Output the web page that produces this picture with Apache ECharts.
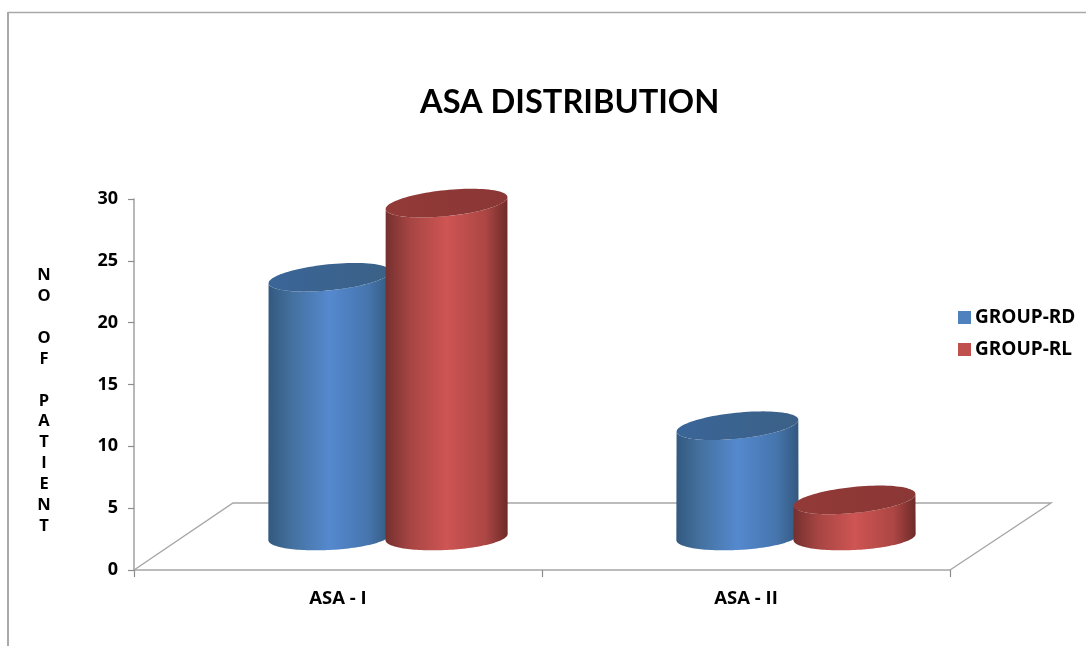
<!DOCTYPE html>
<html>
<head>
<meta charset="utf-8">
<style>html,body{margin:0;padding:0;background:#fff}#c{width:1086px;height:646px}</style>
<script src="https://cdn.jsdelivr.net/npm/echarts@6/dist/echarts.min.js"></script>
</head>
<body>
<div id="c"></div>
<script>
const categories = ['ASA - I', 'ASA - II'];
const groupRD = [21, 9];
const groupRL = [27, 3];
const yTicks = {min: 0, max: 30, interval: 5};
const titleFont = 'Lato, "Open Sans", sans-serif';
const font = '"Open Sans", Lato, sans-serif';
const yName = 'N\nO\n\nO\nF\n\nP\nA\nT\nI\nE\nN\nT';

const chart = echarts.init(document.getElementById('c'), null, {renderer: 'canvas'});

const DX = 50, DY = -33, FLOOR_DX = 100, FLOOR_DY = -67;

function ellipsePts(cx, cy, rx, ry, deg, from, to, n) {
  const a = deg * Math.PI / 180, pts = [];
  for (let i = 0; i <= n; i++) {
    const t = from + (to - from) * i / n;
    const x = rx * Math.cos(t), y = ry * Math.sin(t);
    pts.push([cx + x * Math.cos(a) + y * Math.sin(a), cy - x * Math.sin(a) + y * Math.cos(a)]);
  }
  return pts;
}
function sideGradient(edgeL, midL, mid, midR, edgeR) {
  return new echarts.graphic.LinearGradient(0, 0, 1, 0, [
    {offset: 0, color: edgeL}, {offset: 0.2, color: midL}, {offset: 0.5, color: mid},
    {offset: 0.82, color: midR}, {offset: 1, color: edgeR}
  ]);
}
function cylinder(sign, side, top) {
  return function (params, api) {
    const band = api.size([1, 0])[0];
    const rx = band * 0.15, ry = 13;
    const v = api.coord([api.value(0), api.value(1)]);
    const b = api.coord([api.value(0), 0]);
    const cx = v[0] + DX + sign * band * 0.1435;
    const topY = v[1] + DY, botY = b[1] + DY;
    const bottomArc = ellipsePts(cx, botY, rx, ry, 3, Math.PI, 0, 72).reverse();
    const topArc = ellipsePts(cx, topY, rx, ry, 5.8, Math.PI, 0, 72);
    const topPts = ellipsePts(cx, topY, rx, ry, 5.8, 0, Math.PI * 2, 96);
    return {
      type: 'group',
      children: [
        {type: 'polygon', shape: {points: topArc.concat(bottomArc)}, style: {fill: side}},
        {type: 'polygon', shape: {points: topPts}, style: {fill: top}}
      ]
    };
  };
}
function floorItem(params) {
  const cs = params.coordSys;
  const x0 = cs.x, x1 = cs.x + cs.width, y = cs.y + cs.height;
  return {
    type: 'polyline',
    shape: {points: [[x0, y], [x0 + FLOOR_DX - 1, y + FLOOR_DY], [x1 + FLOOR_DX + 1, y + FLOOR_DY], [x1, y]]},
    style: {stroke: '#a6a6a6', lineWidth: 1.4, fill: null}
  };
}

chart.setOption({
  animation: false,
  backgroundColor: '#fff',
  title: {
    text: 'ASA DISTRIBUTION', left: 415, top: 81,
    textStyle: {fontFamily: titleFont, fontWeight: 'bold', fontSize: 32.6, color: '#000'}
  },
  legend: {
    orient: 'vertical', left: 953, top: 303, itemWidth: 13, itemHeight: 13, itemGap: 13,
    icon: 'rect', data: ['GROUP-RD', 'GROUP-RL'],
    textStyle: {fontFamily: font, fontWeight: 'bold', fontSize: 19, color: '#000', padding: [0, 0, 0, -1]}
  },
  grid: {left: 134, right: 136, top: 199, bottom: 76},
  xAxis: {
    type: 'category', data: categories, boundaryGap: true,
    axisLine: {lineStyle: {color: '#a6a6a6', width: 1.6}},
    axisTick: {show: true, alignWithLabel: false, length: 7, lineStyle: {color: '#8c8c8c', width: 1.2}},
    axisLabel: {fontFamily: font, fontWeight: 'bold', fontSize: 18.5, color: '#000', margin: 19}
  },
  yAxis: {
    type: 'value', min: yTicks.min, max: yTicks.max, interval: yTicks.interval,
    splitLine: {show: false},
    axisLine: {show: true, lineStyle: {color: '#a6a6a6', width: 1.6}},
    axisTick: {show: true, length: 6, lineStyle: {color: '#8c8c8c', width: 1.2}},
    axisLabel: {fontFamily: font, fontWeight: 'bold', fontSize: 18, color: '#000', margin: 16}
  },
  graphic: [
    {type: 'line', shape: {x1: 8, y1: 12.5, x2: 1086, y2: 12.5}, style: {stroke: '#a9a9a9', lineWidth: 1.5}, silent: true},
    {type: 'line', shape: {x1: 8, y1: 12, x2: 8, y2: 646}, style: {stroke: '#a9a9a9', lineWidth: 2}, silent: true},
    {type: 'text', x: 44, y: 265, silent: true, style: {
      text: yName, align: 'center', verticalAlign: 'top', lineHeight: 20.9,
      fontFamily: font, fontWeight: 'bold', fontSize: 16.5, fill: '#000'
    }}
  ],
  series: [
    {type: 'custom', name: 'floor', silent: true, z: 1, data: [[0, 0]], renderItem: floorItem},
    {
      type: 'custom', name: 'GROUP-RD', z: 2, itemStyle: {color: '#4f81bd'},
      data: groupRD.map((v, i) => [i, v]), encode: {x: 0, y: 1},
      renderItem: cylinder(-1, sideGradient('#33597f', '#44719f', '#5589cf', '#4675ad', '#32587f'),
        new echarts.graphic.LinearGradient(0, 0, 1, 0, [{offset: 0, color: '#3a6598'}, {offset: 1, color: '#3b6186'}]))
    },
    {
      type: 'custom', name: 'GROUP-RL', z: 3, itemStyle: {color: '#c0504d'},
      data: groupRL.map((v, i) => [i, v]), encode: {x: 0, y: 1},
      renderItem: cylinder(1, sideGradient('#74302e', '#a64543', '#ce5553', '#ac4644', '#6e2b29'),
        new echarts.graphic.LinearGradient(0, 0, 1, 0, [{offset: 0, color: '#923a38'}, {offset: 1, color: '#8a3735'}]))
    }
  ]
});
</script>
</body>
</html>
